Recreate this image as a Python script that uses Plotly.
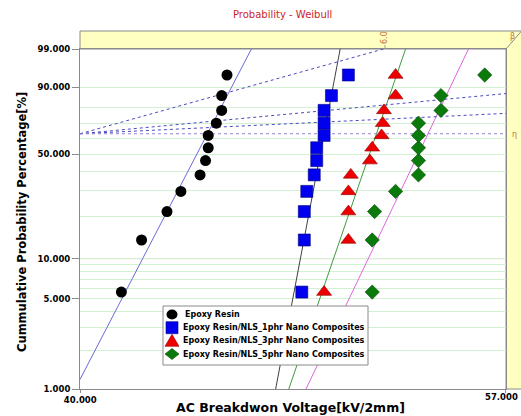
import math
import plotly.graph_objects as go

# Cumulative probability (median ranks, %) shared by every specimen set
cum_prob = [5.6, 13.7, 21.8, 29.8, 37.9, 46.0, 54.0, 62.1, 70.2, 78.2, 86.3, 94.4]

# AC breakdown voltages [kV/2mm], ordered by rank
epoxy_kv = [41.4, 42.1, 43.0, 43.5, 44.2, 44.4, 44.5, 44.5, 44.8, 45.0, 45.0, 45.2]
nano1_kv = [48.1, 48.2, 48.2, 48.3, 48.6, 48.7, 48.7, 49.0, 49.0, 49.0, 49.3, 50.0]
nano3_kv = [49.0, 50.0, 50.0, 50.0, 50.1, 50.9, 51.0, 51.4, 51.45, 51.5, 52.0, 52.0]
nano5_kv = [51.0, 51.0, 51.1, 52.0, 53.0, 53.0, 53.0, 53.0, 53.0, 54.0, 54.0, 56.0]

series_names = [
    "Epoxy Resin",
    "Epoxy Resin/NLS_1phr Nano Composites",
    "Epoxy Resin/NLS_3phr Nano Composites",
    "Epoxy Resin/NLS_5phr Nano Composites",
]

# Two-parameter Weibull fits (shape beta, scale eta in kV/2mm)
fit_beta = [41.8, 114.2, 63.1, 45.35]
fit_eta = [44.47, 49.0, 51.18, 53.42]

# Beta-scale construction lines: end points (kV, %) from the eta focus
beta_line_ends = [(51.48, 99.0), (57.0, 87.3), (57.0, 76.4)]
eta_focus = (40.0, 63.21)

# Axis ticks / grid
y_tick_pct = [1, 5, 10, 50, 90, 99]
y_tick_text = ["1.000", "5.000", "10.000", "50.000", "90.000", "99.000"]
y_grid_pct = [2, 3, 4, 5, 6, 7, 8, 9, 10, 20, 30, 40, 50, 60, 70, 80, 90]
x_range_kv = [40.0, 57.0]
x_tick_text = ["40.000", "57.000"]
x_grid_kv = [50.0]


def wb(p):
    """Weibull probability-paper ordinate for a percentage."""
    return math.log(-math.log(1.0 - p / 100.0))


FONT = "Tahoma, DejaVu Sans, sans-serif"
W, H = 521, 416
ML, MR, MT, MB = 80, 15, 49, 27
PW, PH = W - ML - MR, H - MT - MB


def px(xp):
    return (xp - ML) / PW


def py(yp):
    return (MT + PH - yp) / PH


fig = go.Figure()

marker_styles = [
    dict(symbol="circle", size=11, color="black", line=dict(width=0)),
    dict(symbol="square", size=12, color="#0000ee", line=dict(width=0.6, color="#000080")),
    dict(symbol="triangle-up", size=13, color="#ee0000", line=dict(width=0.6, color="#900000")),
    dict(symbol="diamond", size=11, color="#0a7a0a", line=dict(width=0.6, color="#064806")),
]
line_colors = ["#6a6ad8", "#404040", "#3f9a3f", "#dd66dd"]
data_sets = [epoxy_kv, nano1_kv, nano3_kv, nano5_kv]

# Fitted Weibull lines (straight on probability paper)
for b, e, c in zip(fit_beta, fit_eta, line_colors):
    xs = x_range_kv
    ys = [b * (math.log(v) - math.log(e)) for v in xs]
    fig.add_trace(go.Scatter(x=xs, y=ys, mode="lines", line=dict(color=c, width=1),
                             showlegend=False, hoverinfo="skip"))

# Beta / eta construction lines
for (xe, pe) in beta_line_ends:
    fig.add_trace(go.Scatter(x=[eta_focus[0], xe], y=[wb(eta_focus[1]), wb(pe)], mode="lines",
                             line=dict(color="#4a4ac0", width=1, dash="dot"),
                             showlegend=False, hoverinfo="skip"))
fig.add_trace(go.Scatter(x=[eta_focus[0], x_range_kv[1]], y=[wb(eta_focus[1])] * 2, mode="lines",
                         line=dict(color="#9484d4", width=1, dash="dot"),
                         showlegend=False, hoverinfo="skip"))

# Data points
for name, kv, ms in zip(series_names, data_sets, marker_styles):
    fig.add_trace(go.Scatter(x=kv, y=[wb(p) for p in cum_prob], mode="markers", name=name,
                             marker=ms, showlegend=False))

# Eta focus point on the left axis
fig.add_trace(go.Scatter(x=[eta_focus[0]], y=[wb(eta_focus[1])], mode="markers",
                         marker=dict(color="#0000ff", size=9), cliponaxis=False,
                         showlegend=False, hoverinfo="skip"))

shapes = []
# 10 % reference line
shapes.append(dict(type="line", xref="paper", yref="y", x0=0, x1=1, y0=wb(10), y1=wb(10),
                   line=dict(color="#f08a8a", width=1), layer="below"))
# vertical grid
for g in x_grid_kv:
    shapes.append(dict(type="line", xref="x", yref="paper", x0=math.log10(g), x1=math.log10(g),
                       y0=0, y1=1, line=dict(color="#c6ecc6", width=1), layer="below"))

# Yellow beta/eta scale band along top and right
top = py(31)
shapes.append(dict(type="path", xref="paper", yref="paper",
                   path=f"M 0 1 L 0 {top} L 1.2 {top} L 1.2 0 L 1 0 L 1 1 Z",
                   fillcolor="#ffffc2", line=dict(color="#8a8a8a", width=1), layer="below"))
shapes.append(dict(type="line", xref="paper", yref="paper", x0=1, y0=1,
                   x1=px(525), y1=py(27), line=dict(color="#8a8a8a", width=1)))
shapes.append(dict(type="line", xref="paper", yref="paper", x0=px(385), x1=px(385),
                   y0=1, y1=py(45), line=dict(color="#8aa88a", width=1)))

# Legend box
lx0, lx1, ly0, ly1 = 163, 368, 306, 365
shapes.append(dict(type="rect", xref="paper", yref="paper", x0=px(lx0), x1=px(lx1),
                   y0=py(ly1), y1=py(ly0), fillcolor="white",
                   line=dict(color="#8a8a8a", width=1)))
row_y = [314.5, 327.7, 340.8, 354.0]
sym_x = 172
# circle
shapes.append(dict(type="circle", xref="paper", yref="paper", x0=px(sym_x - 5.5), x1=px(sym_x + 5.5),
                   y0=py(row_y[0] + 5), y1=py(row_y[0] - 5), fillcolor="black", line=dict(width=0)))
# square
shapes.append(dict(type="rect", xref="paper", yref="paper", x0=px(sym_x - 6), x1=px(sym_x + 6),
                   y0=py(row_y[1] + 6), y1=py(row_y[1] - 6), fillcolor="#0000ee",
                   line=dict(width=0.6, color="#000080")))
# triangle
yt = row_y[2]
shapes.append(dict(type="path", xref="paper", yref="paper",
                   path=f"M {px(sym_x - 7)} {py(yt + 5.5)} L {px(sym_x + 7)} {py(yt + 5.5)} "
                        f"L {px(sym_x)} {py(yt - 6.5)} Z",
                   fillcolor="#ee0000", line=dict(width=0.6, color="#900000")))
# diamond
yd = row_y[3]
shapes.append(dict(type="path", xref="paper", yref="paper",
                   path=f"M {px(sym_x - 7)} {py(yd)} L {px(sym_x)} {py(yd - 5.5)} "
                        f"L {px(sym_x + 7)} {py(yd)} L {px(sym_x)} {py(yd + 5.5)} Z",
                   fillcolor="#0a7a0a", line=dict(width=0.6, color="#064806")))

annotations = []
for i, name in enumerate(series_names):
    annotations.append(dict(text=f"<b>{name}</b>", xref="paper", yref="paper",
                            x=px(181 if i else 183), y=py(row_y[i]), xanchor="left", yanchor="middle",
                            showarrow=False, font=dict(family=FONT, size=8, color="black")))

annotations += [
    dict(text="Probability - Weibull", xref="paper", yref="paper", x=px(282), y=py(15),
         xanchor="center", yanchor="middle", showarrow=False,
         font=dict(family=FONT, size=10, color="#cc1f1f")),
    dict(text="<b>Cummulative Probability Percentage[%]</b>", xref="paper", yref="paper",
         x=px(22), y=py(222), textangle=-90, xanchor="center", yanchor="middle", showarrow=False,
         font=dict(family=FONT, size=11.5, color="black")),
    dict(text="<b>AC Breakdwon Voltage[kV/2mm]</b>", xref="paper", yref="paper",
         x=px(290), y=py(407), xanchor="center", yanchor="middle", showarrow=False,
         font=dict(family=FONT, size=12.5, color="black")),
    # right-hand x tick label sits flush with the page edge
    dict(text=f"<b>{x_tick_text[1]}</b>", xref="paper", yref="paper", x=px(520), y=py(397),
         xanchor="right", yanchor="middle", showarrow=False,
         font=dict(family=FONT, size=8.5, color="black")),
    dict(text="6.0", xref="paper", yref="paper", x=px(385), y=py(38), textangle=-90,
         xanchor="center", yanchor="middle", showarrow=False,
         font=dict(family=FONT, size=8, color="#c0703c")),
    dict(text="β", xref="paper", yref="paper", x=px(512), y=py(37),
         xanchor="center", yanchor="middle", showarrow=False,
         font=dict(family=FONT, size=8, color="#c0703c")),
    dict(text="η", xref="paper", yref="paper", x=px(514), y=py(134),
         xanchor="center", yanchor="middle", showarrow=False,
         font=dict(family=FONT, size=8, color="#c0703c")),
]

# tick positions nudged a hair inside the range so both end ticks are kept
x_tick_vals = [x_range_kv[0] * 1.0002, x_range_kv[1] * 0.9998]

fig.update_layout(
    width=W, height=H,
    margin=dict(l=ML, r=MR, t=MT, b=MB),
    paper_bgcolor="white", plot_bgcolor="white",
    shapes=shapes, annotations=annotations,
    showlegend=False,
    xaxis=dict(type="log", range=[math.log10(v) for v in x_range_kv],
               tickvals=x_tick_vals, ticktext=[f"<b>{x_tick_text[0]}</b>", ""],
               tickfont=dict(family=FONT, size=8.5, color="black"),
               ticks="outside", ticklen=3, tickcolor="#8a8a8a",
               showgrid=False, zeroline=False, automargin=False,
               showline=True, linecolor="#8a8a8a", linewidth=1, mirror=True),
    yaxis=dict(range=[wb(1), wb(99)],
               tickvals=[wb(p) for p in y_tick_pct], ticktext=[f"<b>{t}</b>" for t in y_tick_text],
               tickfont=dict(family=FONT, size=8.5, color="black"),
               ticks="outside", ticklen=7, tickcolor="#8a8a8a",
               showgrid=False, zeroline=False, automargin=False,
               minor=dict(tickvals=[wb(p) for p in y_grid_pct], showgrid=True,
                          gridcolor="#d2f0d2", gridwidth=1, ticklen=0),
               showline=True, linecolor="#8a8a8a", linewidth=1, mirror=True),
)

fig.write_html("out.html")
